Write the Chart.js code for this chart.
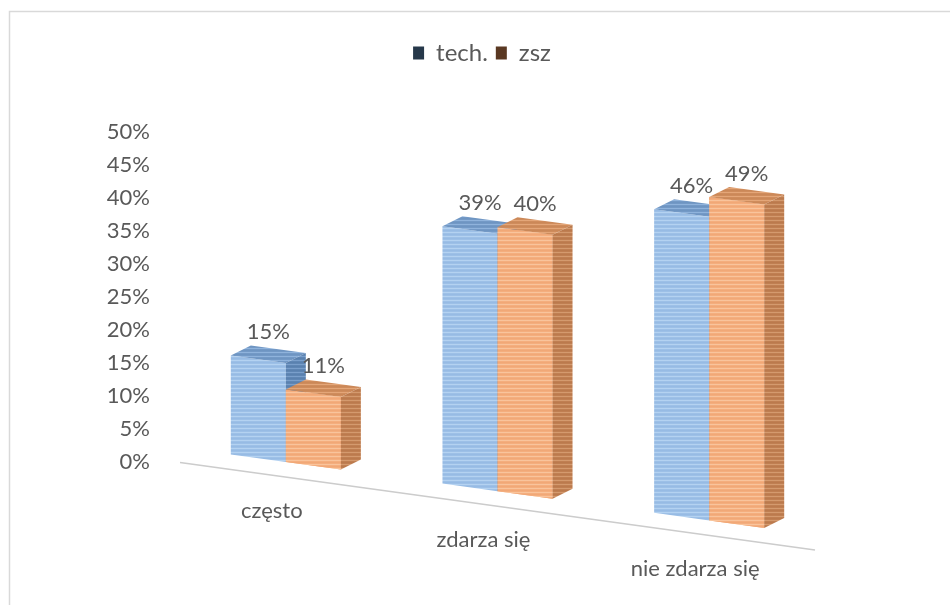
<!DOCTYPE html>
<html lang="pl">
<head>
<meta charset="utf-8">
<title>tech. / zsz</title>
<script src="https://cdn.jsdelivr.net/npm/chart.js@4/dist/chart.umd.min.js"></script>
<style>
    html, body { margin: 0; padding: 0; background: #ffffff; }
    #wrap { position: relative; width: 950px; height: 605px; }
</style>
</head>
<body>
<div id="wrap"><canvas id="mainChart" width="950" height="605"></canvas></div>
<script>
// dane
const categories = ['często', 'zdarza się', 'nie zdarza się'];
const techValues = [0.15, 0.39, 0.46];
const zszValues = [0.11, 0.40, 0.49];
const seriesNames = ['tech.', 'zsz'];
const yTicks = [0, 0.05, 0.10, 0.15, 0.20, 0.25, 0.30, 0.35, 0.40, 0.45, 0.50];

const TEXT = '#595959';
const FONT = 'Lato, "Open Sans", sans-serif';
const SKEW = 0.138;           // pochylenie podłogi
const DEPTH_X = 20, DEPTH_Y = 10;

// paski poziome jako wzór wypełnienia
function stripes(rows) {
    const c = document.createElement('canvas');
    c.width = 4;
    c.height = rows.length;
    const g = c.getContext('2d');
    rows.forEach((col, i) => { g.fillStyle = col; g.fillRect(0, i, 4, 1); });
    return g.createPattern(c, 'repeat');
}

const fills = {
    front: [
        stripes(['#b4d2f1', '#9dc0e7', '#97bbe4', '#9dc0e7']),
        stripes(['#f9c49c', '#f4ae7e', '#f1a877', '#f4ae7e'])
    ],
    top: [
        stripes(['#8fb3dc', '#7399c6', '#6e95c2', '#7399c6']),
        stripes(['#e4a678', '#cf8c5c', '#cb8858', '#cf8c5c'])
    ],
    side: [
        stripes(['#7a9fcb', '#5f86b4', '#5a81af', '#5f86b4']),
        stripes(['#d49a6e', '#c07f52', '#bb7a4d', '#c07f52'])
    ]
};
const legendFills = ['#26384a', '#5a3822'];

let anchorX = 0;
function shearY(x, y) { return y + SKEW * (x - anchorX); }

function setPatternShear(x0) {
    const m = new DOMMatrix([1, -SKEW, 0, 1, 0, SKEW * x0]);
    Object.values(fills).forEach(list => list.forEach(p => p.setTransform(m)));
}

function drawFaces(ctx, bar, di) {
    const left = bar.x - bar.width / 2;
    const right = bar.x + bar.width / 2;
    const top = Math.min(bar.y, bar.base);
    const bottom = Math.max(bar.y, bar.base);
    // głębokość w układzie przed pochyleniem
    const ddx = DEPTH_X;
    const ddy = -DEPTH_Y - SKEW * DEPTH_X;

    ctx.fillStyle = fills.top[di];
    ctx.beginPath();
    ctx.moveTo(left, top);
    ctx.lineTo(right, top);
    ctx.lineTo(right + ddx, top + ddy);
    ctx.lineTo(left + ddx, top + ddy);
    ctx.closePath();
    ctx.fill();

    ctx.fillStyle = fills.side[di];
    ctx.beginPath();
    ctx.moveTo(right, top);
    ctx.lineTo(right + ddx, top + ddy);
    ctx.lineTo(right + ddx, bottom + ddy);
    ctx.lineTo(right, bottom);
    ctx.closePath();
    ctx.fill();
}

const frame = {
    id: 'frame',
    beforeDraw(chart) {
        const ctx = chart.ctx;
        ctx.save();
        ctx.strokeStyle = '#d9d9d9';
        ctx.lineWidth = 1.5;
        ctx.beginPath();
        ctx.moveTo(9.5, chart.height);
        ctx.lineTo(9.5, 11.5);
        ctx.lineTo(chart.width, 11.5);
        ctx.stroke();
        ctx.restore();
    }
};

const oblique = {
    id: 'oblique',
    beforeInit(chart) {
        // więcej miejsca pod legendą
        const fit = chart.legend.fit;
        chart.legend.fit = function () {
            fit.call(this);
            this.height += 57;
        };
    },
    afterLayout(chart) {
        // legenda wyśrodkowana nad ramką wykresu
        const lg = chart.legend;
        const shift = (chart.width + 14) / 2 - (lg.left + lg.right) / 2;
        lg.left += shift;
        lg.right += shift;
    },
    beforeDatasetsDraw(chart) {
        const ctx = chart.ctx;
        const xs = chart.scales.x;
        anchorX = xs.getPixelForValue(0);
        setPatternShear(anchorX);

        // linia podłogi
        const area = chart.chartArea;
        const baseY = chart.scales.y.getPixelForValue(0) + 15;
        ctx.save();
        ctx.strokeStyle = '#cccccc';
        ctx.lineWidth = 1.5;
        ctx.beginPath();
        ctx.moveTo(area.left, shearY(area.left, baseY));
        ctx.lineTo(area.right, shearY(area.right, baseY));
        ctx.stroke();
        ctx.restore();

        ctx.save();
        ctx.transform(1, SKEW, 0, 1, 0, -SKEW * anchorX);
    },
    afterDatasetsDraw(chart) {
        const ctx = chart.ctx;
        // kolejno: przód, wierzch i bok każdej serii
        chart.data.datasets.forEach((ds, di) => {
            const meta = chart.getDatasetMeta(di);
            meta.data.forEach(bar => {
                if (di > 0) bar.draw(ctx, chart.chartArea);
                drawFaces(ctx, bar, di);
            });
        });
        ctx.restore();

        // etykiety wartości
        ctx.save();
        ctx.fillStyle = TEXT;
        ctx.font = '22px ' + FONT;
        ctx.textAlign = 'center';
        ctx.textBaseline = 'alphabetic';
        chart.data.datasets.forEach((ds, di) => {
            const meta = chart.getDatasetMeta(di);
            meta.data.forEach((bar, i) => {
                const cx = bar.x + DEPTH_X / 2;
                const ty = shearY(bar.x, bar.y) - DEPTH_Y - 10;
                ctx.fillText(Math.round(ds.data[i] * 100) + '%', cx, ty);
            });
        });

        // nazwy kategorii wzdłuż podłogi
        const xs = chart.scales.x;
        const y0 = chart.scales.y.getPixelForValue(0);
        categories.forEach((name, i) => {
            const px = xs.getPixelForValue(i);
            ctx.fillText(name, px - 14, shearY(px, y0) + 56);
        });
        ctx.restore();
    }
};

new Chart(document.getElementById('mainChart'), {
    type: 'bar',
    data: {
        labels: categories,
        datasets: [
            {
                label: seriesNames[0],
                data: techValues,
                backgroundColor: fills.front[0],
                borderWidth: 0,
                clip: false
            },
            {
                label: seriesNames[1],
                data: zszValues,
                backgroundColor: fills.front[1],
                borderWidth: 0,
                clip: false
            }
        ]
    },
    options: {
        responsive: false,
        animation: false,
        events: [],
        layout: { padding: { top: 33, left: 60, right: 135, bottom: 143 } },
        categoryPercentage: 0.52,
        barPercentage: 1.0,
        plugins: {
            legend: {
                position: 'top',
                labels: {
                    color: TEXT,
                    font: { family: FONT, size: 24 },
                    boxWidth: 11,
                    boxHeight: 13,
                    padding: 8,
                    generateLabels(chart) {
                        return chart.data.datasets.map((ds, i) => ({
                            text: ds.label,
                            fillStyle: legendFills[i],
                            strokeStyle: legendFills[i],
                            lineWidth: 0,
                            fontColor: TEXT,
                            datasetIndex: i
                        }));
                    }
                }
            },
            tooltip: { enabled: false }
        },
        scales: {
            x: { display: false },
            y: {
                min: 0,
                max: 0.5,
                afterFit(scale) { scale.width = 120; },
                afterBuildTicks(scale) { scale.ticks = yTicks.map(v => ({ value: v })); },
                grid: { display: false, drawTicks: false },
                border: { display: false },
                ticks: {
                    padding: 30,
                    color: TEXT,
                    font: { family: FONT, size: 22 },
                    callback: v => Math.round(v * 100) + '%'
                }
            }
        }
    },
    plugins: [frame, oblique]
});
</script>
</body>
</html>
